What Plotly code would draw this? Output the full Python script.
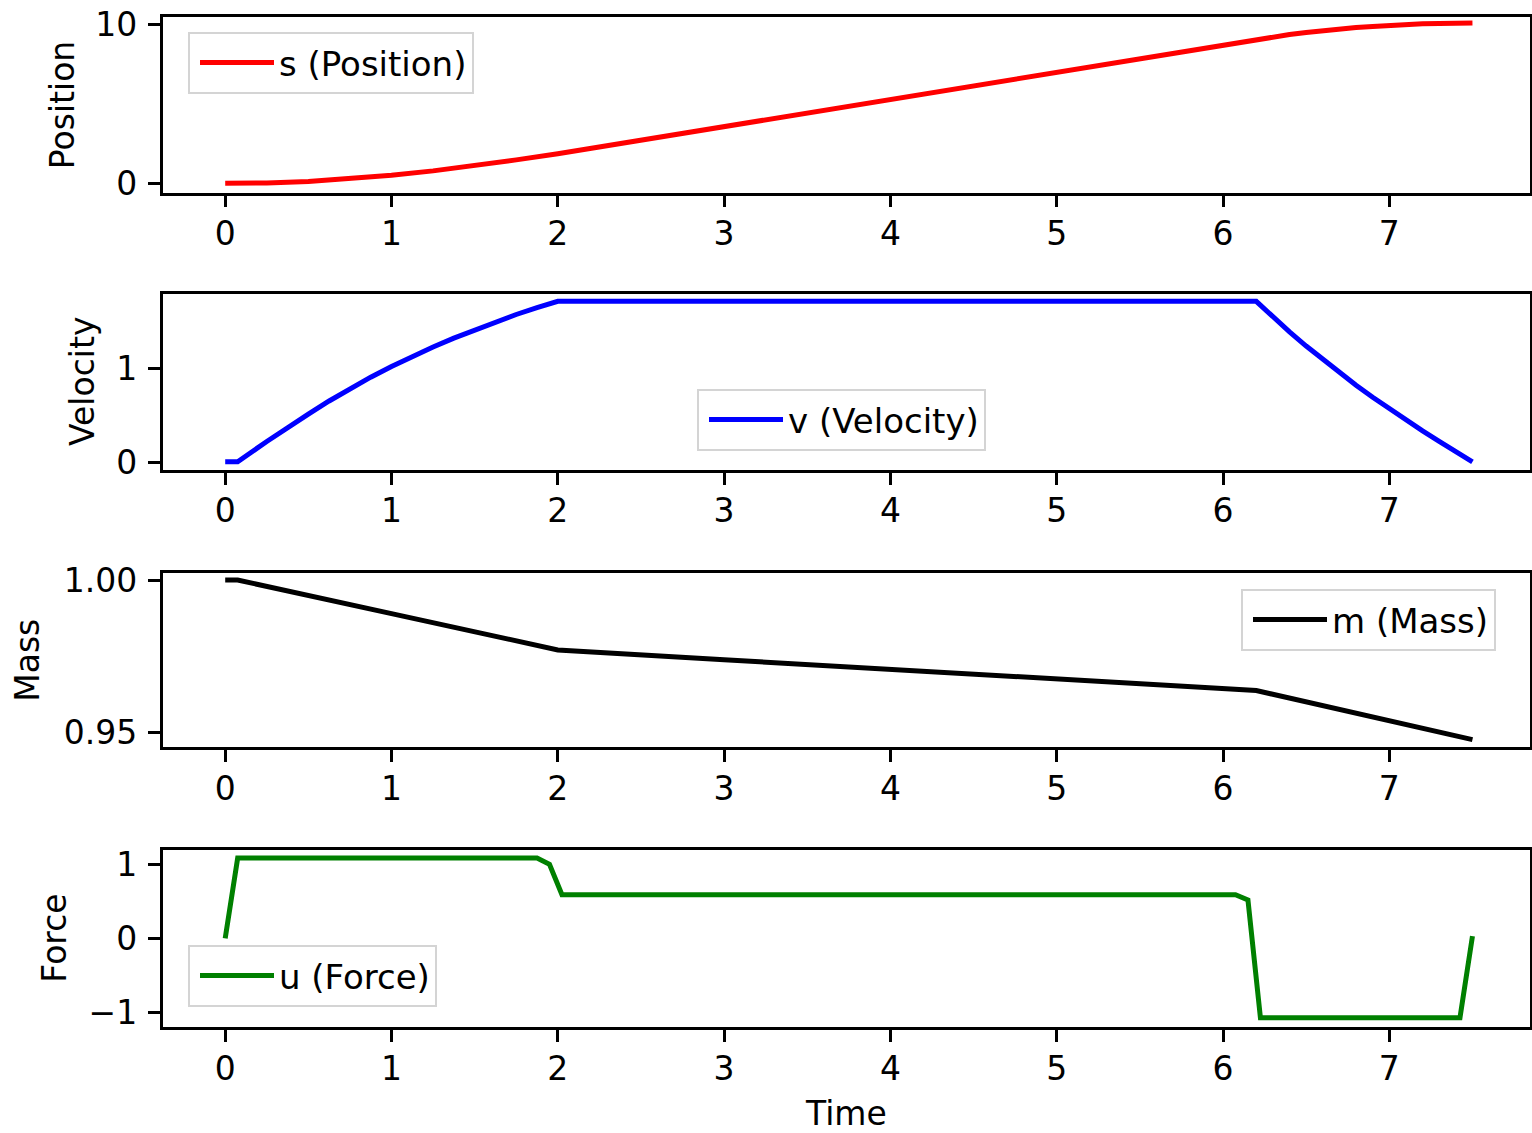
import plotly.graph_objects as go

# ---------------- data ----------------
t_pos = [0, 0.075, 0.25, 0.5, 0.75, 1.0, 1.25, 1.5, 1.75, 2.0, 3.0, 4.0, 5.0, 6.0,
         6.2, 6.3, 6.4, 6.5, 6.6, 6.7, 6.8, 6.9, 7.0, 7.1, 7.2, 7.3, 7.4, 7.5]
s_pos = [0.0, 0.0, 0.02, 0.11, 0.27, 0.50, 0.78, 1.10, 1.47, 1.86, 3.57, 5.28, 6.99,
         8.69, 9.03, 9.19, 9.34, 9.47, 9.59, 9.69, 9.78, 9.85, 9.92, 9.97, 10.01,
         10.04, 10.05, 10.06]

t_vel = [0, 0.075, 0.25, 0.375, 0.5, 0.625, 0.75, 0.875, 1.0, 1.125, 1.25, 1.375,
         1.5, 1.625, 1.75, 1.875, 2.0, 6.2, 6.3, 6.4, 6.5, 6.6, 6.7, 6.8, 6.9,
         7.0, 7.1, 7.2, 7.3, 7.4, 7.5]
v_vel = [0.01, 0.01, 0.225, 0.374, 0.515, 0.654, 0.785, 0.906, 1.02, 1.126, 1.225,
         1.319, 1.405, 1.489, 1.57, 1.643, 1.709, 1.709, 1.544, 1.386, 1.236,
         1.092, 0.954, 0.821, 0.694, 0.571, 0.453, 0.338, 0.226, 0.117, 0.01]

t_mass = [0, 0.075, 1.0, 2.0, 3.0, 4.0, 5.0, 6.0, 6.2, 7.5]
m_mass = [1.0, 1.0, 0.9890, 0.9771, 0.9739, 0.9707, 0.9675, 0.9645, 0.9638, 0.9477]

t_force = [0, 0.075, 1.875, 1.95, 2.025, 6.075, 6.15, 6.225, 7.425, 7.5]
u_force = [0.0, 1.085, 1.085, 1.0, 0.59, 0.59, 0.52, -1.07, -1.07, 0.03]

series_names = ["s (Position)", "v (Velocity)", "m (Mass)", "u (Force)"]
y_titles = ["Position", "Velocity", "Mass", "Force"]
x_title = "Time"
x_ticks = [0, 1, 2, 3, 4, 5, 6, 7]
y_ticks = [[0, 10], [0, 1], [0.95, 1.00], [-1, 0, 1]]
y_tick_text = [["0", "10"], ["0", "1"], ["0.95", "1.00"], ["\u22121", "0", "1"]]

# ---------------- layout geometry ----------------
W, H = 1532, 1133
FONT = "DejaVu Sans"
FS = 33
colors = ["#ff0000", "#0000ff", "#000000", "#008000"]
data = [(t_pos, s_pos), (t_vel, v_vel), (t_mass, m_mass), (t_force, u_force)]

rows_px = [(16.7, 192.7), (294, 470), (573.3, 747.3), (850, 1027.3)]
y_ranges = [[-0.59, 10.46], [-0.077, 1.787], [0.9452, 1.0022], [-1.2, 1.194]]
x_range = [-0.377, 7.846]
x_dom = [162.5 / W, 1530 / W]

legend_pos = [(188, 32), (697, 389), (1241, 589), (188, 945)]
ytitle_x = [62.5, 82, 27.5, 55]

fig = go.Figure()
layout = {}
annotations = []

for i, ((tx, ty), name, col) in enumerate(zip(data, series_names, colors)):
    k = "" if i == 0 else str(i + 1)
    leg = "legend" if i == 0 else f"legend{i + 1}"
    fig.add_trace(go.Scatter(
        x=tx, y=ty, mode="lines", name=name,
        line=dict(color=col, width=5),
        xaxis="x" + k, yaxis="y" + k, legend=leg, showlegend=True,
    ))
    top, bot = rows_px[i]
    axis_common = dict(
        showline=True, linecolor="black", linewidth=2.5, mirror=True,
        ticks="outside", ticklen=12, tickwidth=2.5, tickcolor="black",
        showgrid=False, zeroline=False, automargin=False,
        tickfont=dict(family=FONT, size=FS, color="black"),
    )
    layout["xaxis" + k] = dict(
        domain=x_dom, range=x_range, anchor="y" + k,
        tickmode="array", tickvals=x_ticks, ticktext=[str(v) for v in x_ticks],
        ticklabelstandoff=-2, **axis_common,
    )
    layout["yaxis" + k] = dict(
        domain=[1 - bot / H, 1 - top / H], range=y_ranges[i], anchor="x" + k,
        tickmode="array", tickvals=y_ticks[i], ticktext=y_tick_text[i],
        ticklabelstandoff=4, **axis_common,
    )
    lx, ly = legend_pos[i]
    layout[leg] = dict(
        x=lx / W, y=1 - ly / H, xanchor="left", yanchor="top",
        bgcolor="rgba(255,255,255,0.8)", bordercolor="#d4d4d4", borderwidth=2,
        font=dict(family=FONT, size=34, color="black"), itemwidth=74,
        indentation=5,
    )
    annotations.append(dict(
        text=y_titles[i], xref="paper", yref="paper",
        x=ytitle_x[i] / W, y=1 - (top + bot) / 2 / H,
        xanchor="center", yanchor="middle", textangle=-90, showarrow=False,
        font=dict(family=FONT, size=FS, color="black"),
    ))

annotations.append(dict(
    text=x_title, xref="paper", yref="paper", x=846 / W, y=1 - 1113 / H,
    xanchor="center", yanchor="middle", showarrow=False,
    font=dict(family=FONT, size=FS, color="black"),
))

fig.update_layout(
    width=W, height=H, margin=dict(l=0, r=0, t=0, b=0, autoexpand=False),
    paper_bgcolor="white", plot_bgcolor="white",
    annotations=annotations, **layout,
)

fig.write_html("out.html")
